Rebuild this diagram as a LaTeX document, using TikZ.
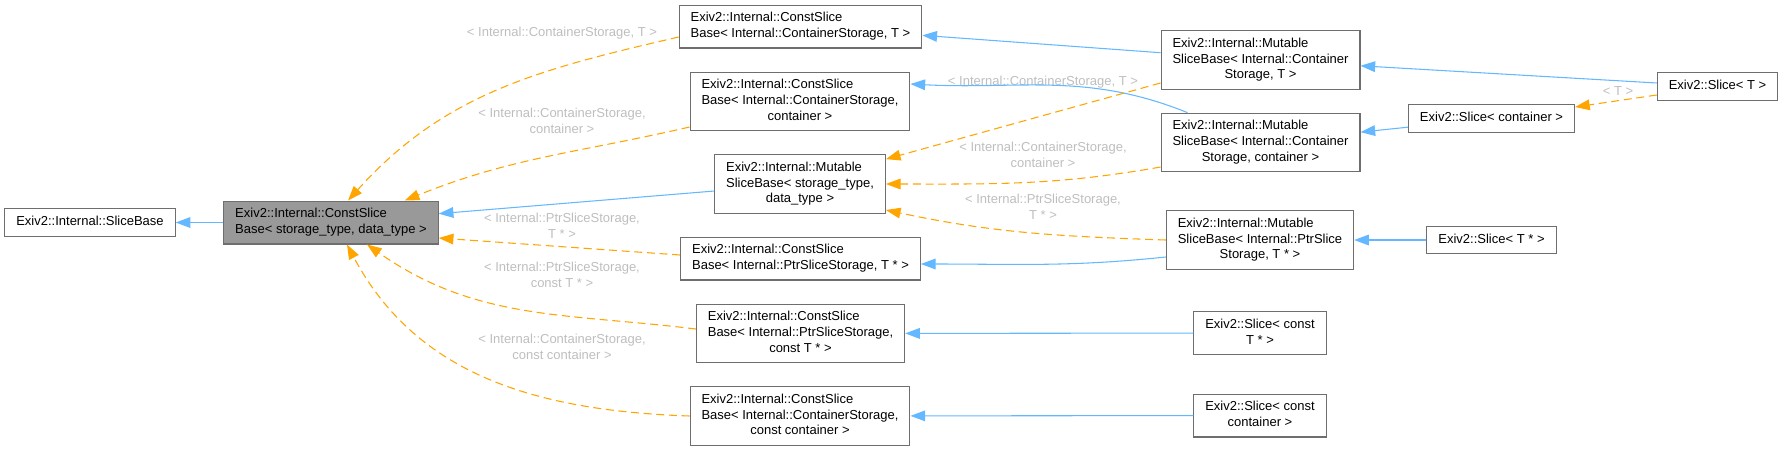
\documentclass[tikz,border=0pt]{standalone}
\usepackage{fontspec}
\setmainfont{Liberation Sans}
\usepackage{xcolor}
\usepackage{tikz}
\usetikzlibrary{arrows.meta, calc}

\definecolor{inhblue}{RGB}{99,184,255}
\definecolor{tmplorange}{RGB}{255,165,0}
\definecolor{lblgray}{RGB}{190,190,190}
\definecolor{boxgray}{RGB}{110,110,110}
\definecolor{fillgray}{RGB}{153,153,153}

% one-line class name, and several lines with the last one centred
\newcommand{\oneline}[1]{\begin{tabular}{@{}c@{}}#1\end{tabular}}
\newcommand{\lastcentred}[2]{\begin{tabular}{@{}l@{}}#1\\\multicolumn{1}{@{}c@{}}{#2}\end{tabular}}

\begin{document}
\begin{tikzpicture}[
    x=0.75pt, y=0.75pt,
    cls/.style={rectangle, draw=boxgray, line width=0.8pt, fill=white, inner xsep=8.6pt, inner ysep=4.3pt, font=\fontsize{9.75}{11.8}\selectfont},
    cur/.style={cls, fill=fillgray},
    lbl/.style={text=lblgray, align=center, inner sep=0pt, font=\fontsize{9.75}{11.8}\selectfont},
    inh/.style={-{Triangle[length=11pt, width=8pt]}, inhblue, line width=0.8pt},
    tmpl/.style={-{Triangle[length=11pt, width=8pt]}, tmplorange, line width=0.8pt, dash pattern=on 6pt off 3.5pt},
]
    \useasboundingbox (0,0) rectangle (1783,-451);

    % Base classes (left)
    \node[cls] (base)  at (90,-222.5)  {\oneline{Exiv2::Internal::SliceBase}};
    \node[cur] (csbsd) at (331,-222.5) {\lastcentred{Exiv2::Internal::ConstSlice}{Base< storage\_type, data\_type >}};

    % Second column
    \node[cls] (csbcst)  at (800.5,-26.5)  {\lastcentred{Exiv2::Internal::ConstSlice}{Base< Internal::ContainerStorage, T >}};
    \node[cls] (csbcsc)  at (800,-101.5)   {\lastcentred{Exiv2::Internal::ConstSlice\\Base< Internal::ContainerStorage,}{container >}};
    \node[cls] (msbsd)   at (800,-184)     {\lastcentred{Exiv2::Internal::Mutable\\SliceBase< storage\_type,}{data\_type >}};
    \node[cls] (csbpst)  at (800.5,-258.5) {\lastcentred{Exiv2::Internal::ConstSlice}{Base< Internal::PtrSliceStorage, T * >}};
    \node[cls] (csbpsct) at (800.5,-333.5) {\lastcentred{Exiv2::Internal::ConstSlice\\Base< Internal::PtrSliceStorage,}{const T * >}};
    \node[cls] (csbcscc) at (800,-416)     {\lastcentred{Exiv2::Internal::ConstSlice\\Base< Internal::ContainerStorage,}{const container >}};

    % Third column
    \node[cls] (msbcst)  at (1260.5,-60)   {\lastcentred{Exiv2::Internal::Mutable\\SliceBase< Internal::Container}{Storage, T >}};
    \node[cls] (msbcsc)  at (1260.5,-142.5){\lastcentred{Exiv2::Internal::Mutable\\SliceBase< Internal::Container}{Storage, container >}};
    \node[cls] (msbpst)  at (1260,-240)    {\lastcentred{Exiv2::Internal::Mutable\\SliceBase< Internal::PtrSlice}{Storage, T * >}};
    \node[cls] (slicect) at (1260,-333)    {\lastcentred{Exiv2::Slice< const}{T * >}};
    \node[cls] (slicecc) at (1260,-415.5)  {\lastcentred{Exiv2::Slice< const}{container >}};

    % Slices (right)
    \node[cls] (slicec)  at (1491.5,-118.5) {\oneline{Exiv2::Slice< container >}};
    \node[cls] (slicetp) at (1491.5,-240)   {\oneline{Exiv2::Slice< T * >}};
    \node[cls] (slicet)  at (1717.5,-86.5)  {\oneline{Exiv2::Slice< T >}};

    % Template arguments
    \node[lbl] (lcst1)  at (562,-33)     {< Internal::ContainerStorage, T >};
    \node[lbl] (lcsc1)  at (562,-120.5)  {< Internal::ContainerStorage,\\container >};
    \node[lbl] (lpst1)  at (562,-225.5)  {< Internal::PtrSliceStorage,\\T * >};
    \node[lbl] (lpsct)  at (562,-275)    {< Internal::PtrSliceStorage,\\const T * >};
    \node[lbl] (lcscc)  at (562,-347)    {< Internal::ContainerStorage,\\const container >};
    \node[lbl] (lcst2)  at (1043,-82)    {< Internal::ContainerStorage, T >};
    \node[lbl] (lcsc2)  at (1043,-154.5) {< Internal::ContainerStorage,\\container >};
    \node[lbl] (lpst2)  at (1043,-206.5) {< Internal::PtrSliceStorage,\\T * >};
    \node[lbl] (lt)     at (1618,-91)    {< T >};

    % Inheritance
    \draw[inh] (csbsd) -- (base);
    \draw[inh] (msbsd) -- (csbsd);
    \draw[inh] (msbcst) -- (csbcst);
    \draw[inh] ($(msbcsc.north)+(-73,0)$) to[out=158, in=-3] ($(csbcsc.east)+(0,17.5)$);
    \draw[inh] ($(msbpst.west)+(0,-17)$) to[out=186, in=0] ($(csbpst.east)+(0,-5.5)$);
    \draw[inh] (slicet) -- (msbcst);
    \draw[inh] (slicec) -- (msbcsc);
    \draw[inh] (slicetp) -- (msbpst);
    \draw[inh] (slicect) -- (csbpsct);
    \draw[inh] (slicecc) -- (csbcscc);

    % Template instances
    \draw[tmpl] ($(csbcst.west)+(0,-10.5)$) to[out=193, in=48] ($(csbsd.north)+(17,0)$);
    \draw[tmpl] ($(csbcsc.west)+(0,-25.5)$) to[out=193, in=22] ($(csbsd.north east)+(-34,0)$);
    \draw[tmpl] ($(csbpst.west)+(0,3.5)$) -- ($(csbsd.east)+(0,-15.5)$);
    \draw[tmpl] ($(csbpsct.west)+(0,4.5)$) to[out=173, in=-35] ($(csbsd.south)+(36,0)$);
    \draw[tmpl] (csbcscc.west) to[out=178, in=-62] ($(csbsd.south)+(16,0)$);
    \draw[tmpl] ($(msbcst.west)+(0,-23)$) -- ($(msbsd.north east)+(0,-5)$);
    \draw[tmpl] ($(msbcsc.west)+(0,-24.5)$) to[out=190, in=0] (msbsd.east);
    \draw[tmpl] (msbpst.west) to[out=178, in=-12] ($(msbsd.east)+(0,-26)$);
    \draw[tmpl] ($(slicet.west)+(0,-8.5)$) -- ($(slicec.east)+(0,11.5)$);
\end{tikzpicture}
\end{document}
